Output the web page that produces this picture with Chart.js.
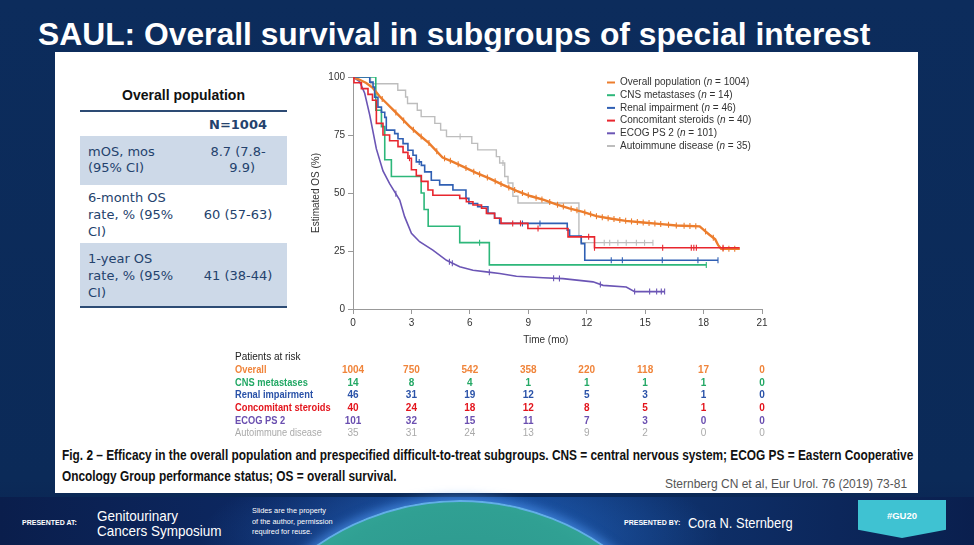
<!DOCTYPE html>
<html>
<head>
<meta charset="utf-8">
<title>SAUL: Overall survival in subgroups of special interest</title>
<script src="https://cdn.jsdelivr.net/npm/chart.js@4.4.1/dist/chart.umd.min.js"></script>
<style>
  body { margin:0; width:974px; height:545px; overflow:hidden; position:relative;
         background:linear-gradient(180deg,#0c2c5c 0%,#0b2a58 88%,#0a2350 100%);
         font-family:"Liberation Sans", Arial, sans-serif; }
  .abs { position:absolute; white-space:nowrap; }
  #title { left:38px; top:18px; font-size:31.8px; line-height:32px; font-weight:bold; color:#fff; }
  #panel { left:55px; top:52px; width:863px; height:441px; background:#fff; }
  .rule { left:80px; width:207px; height:2px; background:#2d4b74; }
  .band { left:80px; width:207px; background:#cdd9e8; }
  .cell { font-family:"DejaVu Sans", Verdana, sans-serif; font-size:13px; color:#24426d; }
  .col2 { left:198px; width:80px; text-align:center; }
  .cap { left:62px; font-weight:bold; font-size:14px; line-height:16px; color:#111;
         font-family:"Liberation Sans Narrow","Liberation Sans",Arial,sans-serif; transform-origin:0 0; }
  #cite { left:665px; top:476px; font-size:12px; line-height:16px; color:#555; }
  #footer { left:0; top:497px; width:974px; height:48px;
    background:
      radial-gradient(ellipse 260px 80px at 460px 40px, rgba(45,125,225,0.6), rgba(0,0,0,0) 100%),
      linear-gradient(90deg,#0a1e4c 0%,#0d2a66 32%,#12408a 50%,#0e2f68 72%,#0a1f4e 100%); }
  #globe { left:208px; top:500px; width:500px; height:500px; border-radius:50%;
    background:radial-gradient(circle at 50% 40%, #2a8c86 0%, #30a093 50%, #3cb3a0 68%, #49b9b4 71%);
    border:2px solid #62aee8;
    box-shadow:0 0 10px 4px rgba(80,150,240,0.6); }
  .ft { color:#fff; transform-origin:0 0; }
  .tag { font-size:7px; font-weight:bold; }
  #gu { left:858px; top:500px; width:88px; height:38px; background:#3fc2d2;
        clip-path:polygon(0 0,100% 0,100% 78%,50% 100%,0 78%);
        color:#fff; font-weight:bold; font-size:9.5px; text-align:center; line-height:32px; }
</style>
</head>
<body>
<div id="title" class="abs">SAUL: Overall survival in subgroups of special interest</div>
<div id="panel" class="abs"></div>

<!-- left summary table -->
<div class="abs" style="left:80px;top:87px;width:207px;text-align:center;font-weight:bold;font-size:14px;line-height:16px;color:#111">Overall population</div>
<div class="abs rule" style="top:110px"></div>
<div class="abs band" style="top:136px;height:49px"></div>
<div class="abs band" style="top:243px;height:63px"></div>
<div class="abs rule" style="top:306px"></div>
<div class="abs cell col2" style="top:117px;line-height:16px;font-weight:bold">N=1004</div>
<div class="abs cell" style="left:88px;top:144px;line-height:16px">mOS, mos<br>(95% CI)</div>
<div class="abs cell col2" style="top:144px;line-height:16px">8.7 (7.8-<br>&nbsp;&nbsp;9.9)</div>
<div class="abs cell" style="left:88px;top:188.5px;line-height:17px">6-month OS<br>rate, % (95%<br>CI)</div>
<div class="abs cell col2" style="top:205.5px;line-height:17px">60 (57-63)</div>
<div class="abs cell" style="left:88px;top:249.5px;line-height:17px">1-year OS<br>rate, % (95%<br>CI)</div>
<div class="abs cell col2" style="top:266.5px;line-height:17px">41 (38-44)</div>

<canvas id="os" class="abs" style="left:225px;top:62px" width="560" height="385"></canvas>

<div id="cap1" class="abs cap" style="top:447px">Fig. 2 – Efficacy in the overall population and prespecified difficult-to-treat subgroups. CNS = central nervous system; ECOG PS = Eastern Cooperative</div>
<div id="cap2" class="abs cap" style="top:468px">Oncology Group performance status; OS = overall survival.</div>
<div id="cite" class="abs">Sternberg CN et al, Eur Urol. 76 (2019) 73-81</div>

<div id="footer" class="abs"></div>
<div id="globe" class="abs"></div>
<div class="abs ft tag" style="left:22px;top:519px">PRESENTED AT:</div>
<div class="abs ft" style="left:97px;top:508px;font-size:15px;line-height:15px;transform:scaleX(0.9)">Genitourinary<br>Cancers Symposium</div>
<div class="abs ft" style="left:252px;top:506px;font-size:8px;line-height:10.5px;transform:scaleX(0.92)">Slides are the property<br>of the author, permission<br>required for reuse.</div>
<div class="abs ft tag" style="left:624px;top:519px">PRESENTED BY:</div>
<div class="abs ft" style="left:688px;top:514px;font-size:15px;line-height:17px;transform:scaleX(0.86)">Cora N. Sternberg</div>
<div id="gu" class="abs">#GU20</div>

<script>
// Kaplan-Meier curves: time in months, survival in %
const overallTime = [0,0.34,0.68,1.03,1.37,1.71,2.05,2.4,2.9,3.4,3.9,4.6,5.1,5.65,6.3,7.0,7.7,8.4,9.1,9.8,10.4,11.1,11.8,12.5,13.2,14.0,14.9,15.7,16.6,17.8,18.05,18.3,18.6,18.75,18.9,19.86];
const overallSurv = [100,98.8,97.4,95.2,91.6,88.8,85.9,83,78.7,75,71.5,65.3,63.5,61.4,58.8,56.3,53.5,50.9,48.7,47,45.2,43.4,41.9,40.0,39.0,38.0,37.3,36.7,36.0,35.6,33.8,32.0,30.0,27.5,26,26];
const overallCens = [1.5,2.2,2.6,3.1,3.5,3.9,4.3,4.7,5.0,5.4,5.8,6.2,6.5,6.9,7.3,7.6,8.0,8.3,8.7,9.0,9.4,9.7,10.1,10.5,10.8,11.2,11.5,11.9,12.2,12.5,12.8,13.1,13.4,13.7,14.0,14.3,14.6,14.9,15.2,15.5,15.8,16.2,16.6,17.0,17.3,17.6,18.1,18.5,19.0,19.3,19.6];

const cnsTime = [0,1.17,1.46,1.63,1.97,3.5,3.65,3.86,5.48,7.0,18.14];
const cnsSurv = [100,85.7,78.6,64.3,57.1,50,42.9,35.7,28.6,19.0,19.0];
const cnsCens = [6.5,18.14];

const renalTime = [0,0.86,1.03,1.11,1.28,1.46,1.63,1.71,2.14,2.31,2.57,2.82,3.08,3.25,3.51,3.68,4.02,4.45,5.13,5.8,5.95,6.4,6.93,7.27,7.53,11.0,11.12,11.72,11.9,18.74];
const renalSurv = [100,97.8,95.7,91.3,87,84.8,82.6,77.1,75.6,73.4,71.3,68.4,66.3,63.4,61.9,59.1,55.5,53.5,51.3,47.7,45.5,44.1,41.2,39.1,36.9,34,31.4,28.2,21,21];
const renalCens = [3.4,8.7,9.6,13.26,13.83,15.88,17.71,18.74];

const steroidTime = [0,0.05,0.43,0.77,1.0,1.2,1.54,1.88,2.31,2.57,2.82,3.0,3.25,3.51,3.85,4.1,5.48,5.82,6.16,6.6,6.85,7.27,7.6,8.98,11.04,12.4,19.85];
const steroidSurv = [100,97.5,95,92.5,90,80,75,72.5,70,67.5,65,60,57.5,55,51.3,49,47.7,46.2,44.8,43.4,41.2,39.1,36.9,34.7,31.1,26.4,26.4];
const steroidCens = [2.9,8.2,8.6,9.5,12.1,12.4,15.9,17.37,17.5,17.63,19.0];

const ecogTime = [0,0.34,0.6,0.86,1.2,1.54,1.88,2.4,2.65,3.0,3.42,4.1,4.8,5.48,6.16,6.85,7.53,8.39,9.76,10.78,12.32,12.84,14.03,14.46,16.0];
const ecogSurv = [100,98,93,83.6,69,59.5,54,47,39.8,32.6,29,25.4,21,18.2,16.7,16,15.3,14.1,13.5,13.1,11.7,10.2,9.5,7.5,7.5];
const ecogCens = [2.2,4.95,5.1,7.0,10.3,10.6,12.7,14.46,15.23,15.59,15.83,16.0];

const autoTime = [0,0.9,2.3,2.7,2.8,3.3,3.5,4.2,4.5,4.8,6.1,6.4,7.36,7.53,7.79,7.96,8.21,8.47,11.6,11.7,15.4];
const autoSurv = [100,97.1,94.3,91.4,88.6,85.7,82.9,80,77.1,74.3,71.4,68.6,65.7,62.9,57.1,54.3,48.6,45.7,31.4,28.6,28.6];
const autoCens = [5.5,7.7,12.9,13.18,13.6,14.03,14.55,14.97,15.4];

// legend names and group sizes
const groupNames = ['Overall population','CNS metastases','Renal impairment','Concomitant steroids','ECOG PS 2','Autoimmune disease'];
const groupN = [1004,14,46,40,101,35];

// patients at risk table
const riskMonths = [0,3,6,9,12,15,18,21];
const riskLabels = ['Overall','CNS metastases','Renal impairment','Concomitant steroids','ECOG PS 2','Autoimmune disease'];
const riskOverall = [1004,750,542,358,220,118,17,0];
const riskCns = [14,8,4,1,1,1,1,0];
const riskRenal = [46,31,19,12,5,3,1,0];
const riskSteroid = [40,24,18,12,8,5,1,0];
const riskEcog = [101,32,15,11,7,3,0,0];
const riskAuto = [35,31,24,13,9,2,0,0];
const riskRows = [riskOverall,riskCns,riskRenal,riskSteroid,riskEcog,riskAuto];

const lineColors = ['#ec7d2d','#2db77a','#2f5fb3','#e8262e','#6b55b5','#bdbdbd'];
const riskColors = ['#f0843a','#23a865','#2a52a8','#e3141c','#6a4fb0','#aaaaaa'];

const curves = [
  {t:overallTime, s:overallSurv, c:overallCens, stepped:false, width:2.4, order:3},
  {t:cnsTime, s:cnsSurv, c:cnsCens, stepped:true, width:1.6, order:4},
  {t:renalTime, s:renalSurv, c:renalCens, stepped:true, width:1.6, order:2},
  {t:steroidTime, s:steroidSurv, c:steroidCens, stepped:true, width:1.6, order:1},
  {t:ecogTime, s:ecogSurv, c:ecogCens, stepped:false, width:1.6, order:5},
  {t:autoTime, s:autoSurv, c:autoCens, stepped:true, width:1.4, order:6}
];

// value of a curve at time tc, so censor ticks sit on the line
function curveAt(cv, tc) {
  const t = cv.t, s = cv.s;
  for (let i = t.length - 1; i >= 0; i--) {
    if (t[i] <= tc) {
      if (cv.stepped || i === t.length - 1) return s[i];
      const f = (tc - t[i]) / (t[i+1] - t[i]);
      return s[i] + f * (s[i+1] - s[i]);
    }
  }
  return s[0];
}

const datasets = [];
curves.forEach(function(cv, k) {
  datasets.push({
    label: groupNames[k],
    data: cv.t.map((tt, i) => ({x: tt, y: cv.s[i]})),
    borderColor: lineColors[k],
    borderWidth: cv.width,
    stepped: cv.stepped,
    pointRadius: 0,
    tension: 0,
    order: cv.order
  });
  datasets.push({
    label: groupNames[k] + ' censored',
    data: cv.c.map(tc => ({x: tc, y: curveAt(cv, tc)})),
    showLine: false,
    pointStyle: 'line',
    rotation: 90,
    pointRadius: 3,
    borderColor: lineColors[k],
    borderWidth: 1.1,
    order: cv.order
  });
});

const extrasPlugin = {
  id: 'extras',
  afterDraw(chart) {
    const ctx = chart.ctx, xs = chart.scales.x;
    ctx.save();
    ctx.textBaseline = 'middle';
    // x axis title
    ctx.font = '10px "Liberation Sans"';
    ctx.fillStyle = '#333';
    ctx.textAlign = 'center';
    ctx.fillText('Time (mo)', xs.getPixelForValue(9.9), 278);

    // legend, top right
    ctx.textAlign = 'left';
    groupNames.forEach(function(name, i) {
      const y = 20.5 + i * 12.7;
      ctx.strokeStyle = lineColors[i];
      ctx.lineWidth = 2;
      ctx.beginPath(); ctx.moveTo(382, y); ctx.lineTo(390, y); ctx.stroke();
      let x = 395;
      ctx.fillStyle = '#333';
      ctx.font = '10px "Liberation Sans"';
      const a = name + ' (';
      ctx.fillText(a, x, y); x += ctx.measureText(a).width;
      ctx.font = 'italic 10px "Liberation Sans"';
      ctx.fillText('n', x, y); x += ctx.measureText('n').width;
      ctx.font = '10px "Liberation Sans"';
      ctx.fillText(' = ' + groupN[i] + ')', x, y);
    });

    // patients at risk
    ctx.font = '10px "Liberation Sans"';
    ctx.fillStyle = '#222';
    ctx.fillText('Patients at risk', 10, 295);
    riskLabels.forEach(function(lab, i) {
      const y = 308.7 + i * 12.52;
      ctx.font = (i === 5 ? '' : 'bold ') + '10px "Liberation Sans"';
      ctx.fillStyle = riskColors[i];
      ctx.textAlign = 'left';
      ctx.save();
      ctx.translate(10, y);
      ctx.scale(0.93, 1);
      ctx.fillText(lab, 0, 0);
      ctx.restore();
      ctx.textAlign = 'center';
      riskRows[i].forEach(function(n, j) {
        ctx.fillText(String(n), xs.getPixelForValue(riskMonths[j]), y);
      });
    });
    ctx.restore();
  }
};

Chart.defaults.font.family = '"Liberation Sans", Arial, sans-serif';
Chart.defaults.font.size = 10;
Chart.defaults.color = '#333';

new Chart(document.getElementById('os').getContext('2d'), {
  type: 'line',
  data: {datasets: datasets},
  options: {
    responsive: false,
    animation: false,
    layout: {padding: {left: 83, right: 23, top: 15, bottom: 93}},
    plugins: {legend: {display: false}, tooltip: {enabled: false}},
    scales: {
      x: {
        type: 'linear', min: 0, max: 21,
        ticks: {stepSize: 3, padding: 3, maxRotation: 0, color: '#333'},
        grid: {drawOnChartArea: false, drawTicks: true, tickLength: 5, color: '#999'},
        border: {color: '#999'},
        afterFit: function(s) { s.height = 45; }
      },
      y: {
        min: 0, max: 100,
        ticks: {stepSize: 25, padding: 3, color: '#333'},
        grid: {drawOnChartArea: false, drawTicks: true, tickLength: 5, color: '#999'},
        border: {color: '#999'},
        title: {display: true, text: 'Estimated OS (%)', color: '#333', padding: {top: 2, bottom: 0}},
        afterFit: function(s) { s.width = 45; }
      }
    }
  },
  plugins: [extrasPlugin]
});

// squeeze the caption to the width of the original
const cap1 = document.getElementById('cap1'), cap2 = document.getElementById('cap2');
const k = 851 / cap1.offsetWidth;
cap1.style.transform = 'scaleX(' + k + ')';
cap2.style.transform = 'scaleX(' + k + ')';
</script>
</body>
</html>
